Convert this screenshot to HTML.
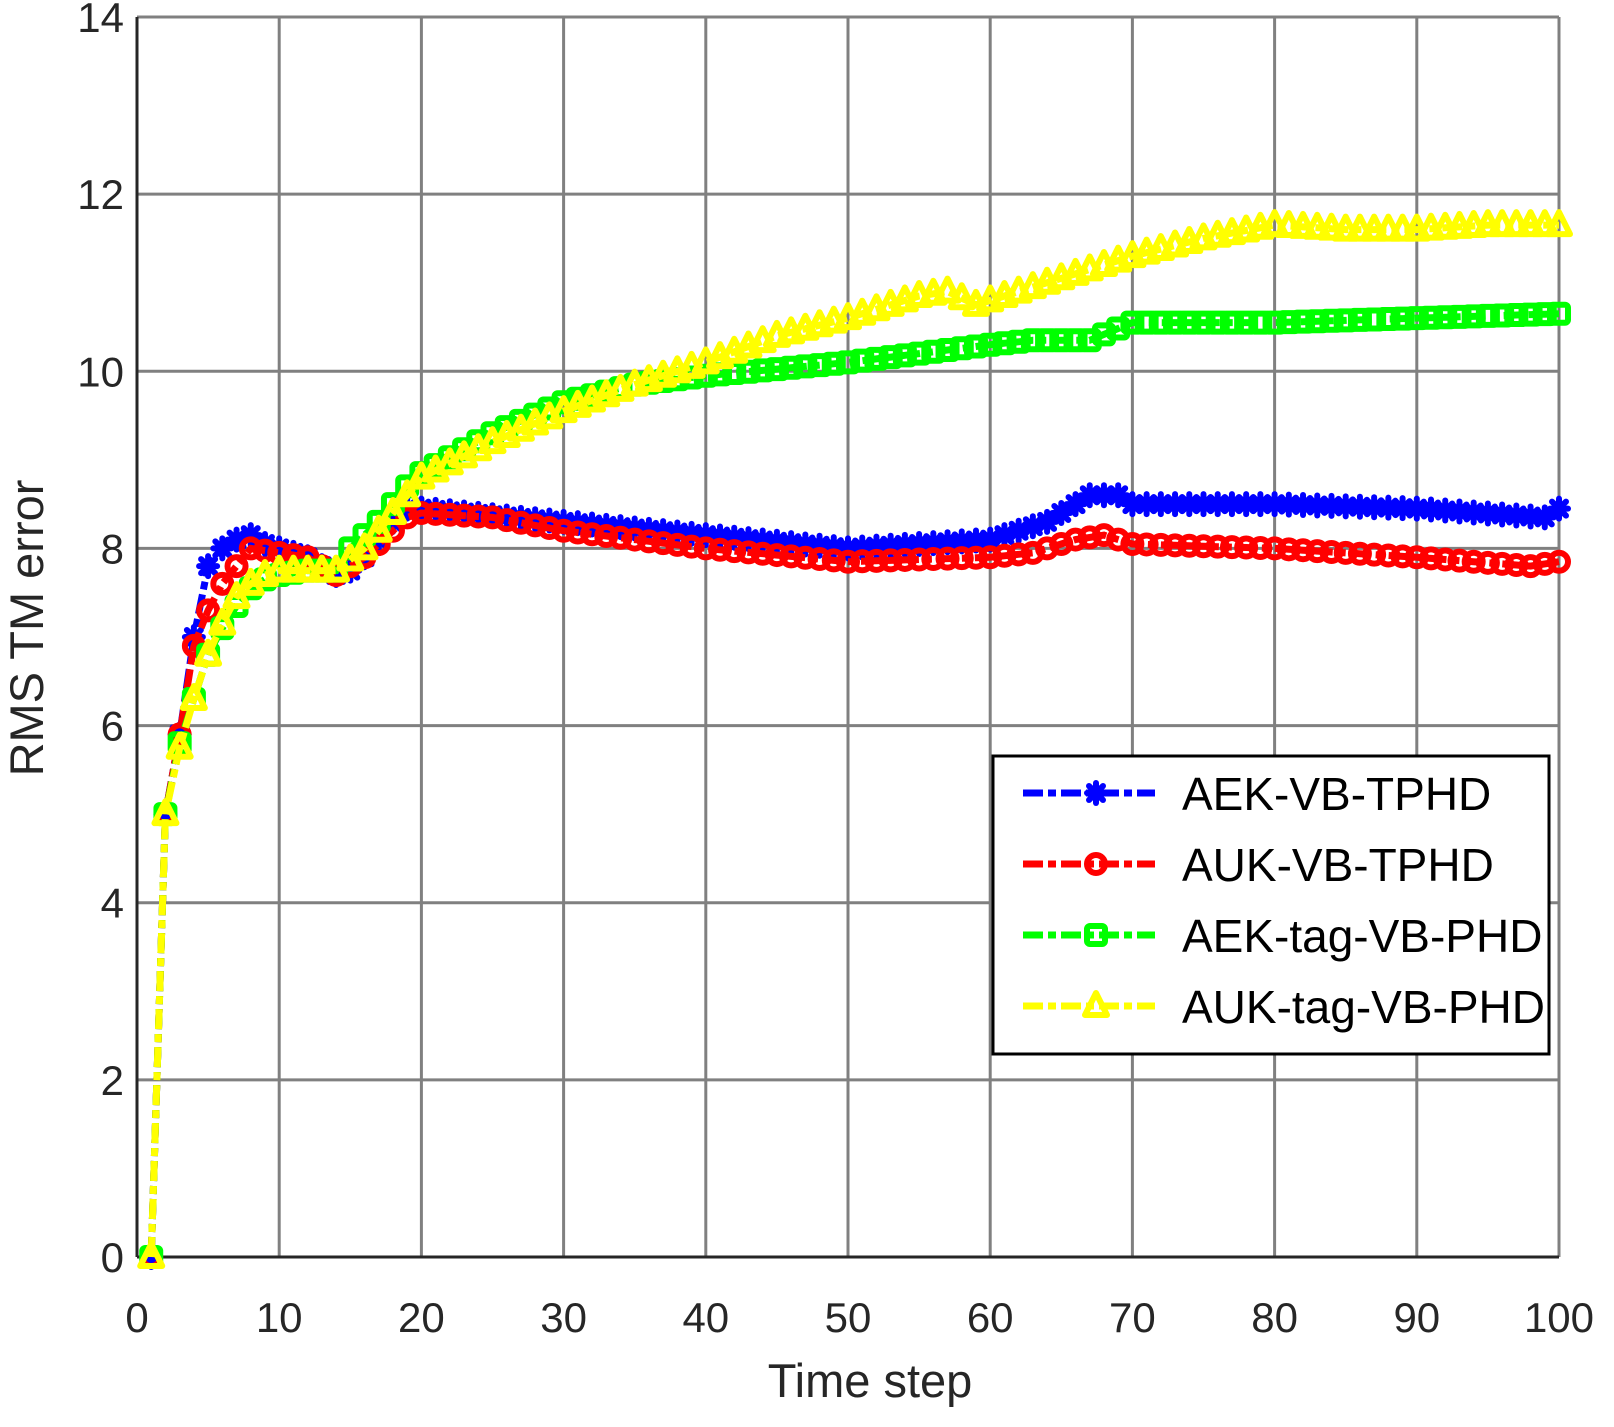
<!DOCTYPE html>
<html><head><meta charset="utf-8"><style>
html,body{margin:0;padding:0;background:#fff}
svg text{font-family:"Liberation Sans",Arial,sans-serif;fill:#262626}
</style></head><body>
<svg id="s" width="1614" height="1422" xmlns="http://www.w3.org/2000/svg"></svg>
<script>
const S=document.getElementById('s');
const L=137,R=1559,T=17,B=1257;
const X=t=>L+(R-L)*t/100, Y=v=>B-(B-T)*v/14;
let h='<rect width="1614" height="1422" fill="#fff"/>';
for(let i=0;i<=10;i++){const x=X(i*10);h+=`<line x1="${x}" y1="${T}" x2="${x}" y2="${B}" stroke="#808080" stroke-width="3"/>`;
h+=`<text x="${x}" y="1332" font-size="42" text-anchor="middle">${i*10}</text>`;}
for(let j=0;j<=7;j++){const y=Y(j*2);h+=`<line x1="${L}" y1="${y}" x2="${R}" y2="${y}" stroke="#808080" stroke-width="3"/>`;
h+=`<text x="124" y="${y+15}" font-size="42" text-anchor="end">${j*2}</text>`;}
h+=`<line x1="${L}" y1="${T}" x2="${L}" y2="${B}" stroke="#262626" stroke-width="3"/><line x1="${L}" y1="${B}" x2="${R}" y2="${B}" stroke="#262626" stroke-width="3"/>`;
h+=`<text x="870" y="1397" font-size="47" text-anchor="middle">Time step</text>`;
h+=`<text transform="translate(43,628) rotate(-90)" font-size="47" text-anchor="middle">RMS TM error</text>`;
function interp(k){const a=[];for(let t=1;t<=100;t++){for(let i=0;i<k.length-1;i++){if(t>=k[i][0]&&t<=k[i+1][0]){const f=(t-k[i][0])/(k[i+1][0]-k[i][0]);a.push([t,k[i][1]+f*(k[i+1][1]-k[i][1])]);break;}}}return a;}
const D={
b:[[1,0],[2,5],[3,5.9],[4,7.0],[5,7.8],[6,8.0],[7,8.1],[8,8.15],[9,8.05],[10,8.0],[12,7.9],[14,7.7],[15,7.75],[16,7.9],[17,8.1],[18,8.3],[19,8.45],[20,8.45],[30,8.3],[40,8.15],[50,8.0],[60,8.1],[64,8.3],[67,8.6],[69,8.6],[70,8.5],[80,8.5],[90,8.45],[99,8.35],[100,8.45]],
r:[[1,0],[2,5],[3,5.9],[4,6.9],[5,7.3],[6,7.6],[7,7.8],[8,8.0],[10,7.95],[12,7.9],[14,7.7],[16,7.9],[18,8.2],[19,8.35],[20,8.4],[25,8.35],[30,8.2],[40,8.0],[50,7.85],[60,7.9],[63,7.95],[66,8.1],[68,8.15],[70,8.05],[80,8.0],[90,7.9],[98,7.8],[100,7.85]],
g:[[1,0],[2,5],[3,5.8],[4,6.3],[5,6.8],[6,7.1],[7,7.35],[8,7.55],[9,7.65],[10,7.7],[12,7.75],[14,7.75],[15,8.0],[17,8.3],[19,8.7],[20,8.85],[25,9.3],[30,9.65],[35,9.85],[40,9.95],[50,10.1],[60,10.3],[63,10.35],[67,10.35],[70,10.55],[80,10.55],[90,10.6],[100,10.65]],
y:[[1,0],[2,5],[3,5.75],[4,6.3],[5,6.8],[6,7.15],[7,7.45],[8,7.6],[9,7.7],[10,7.75],[14,7.75],[16,8.0],[18,8.4],[20,8.8],[25,9.2],[30,9.55],[35,9.85],[40,10.1],[45,10.4],[50,10.6],[55,10.85],[57,10.9],[59,10.75],[62,10.9],[66,11.1],[70,11.3],[75,11.5],[80,11.65],[85,11.6],[90,11.6],[95,11.65],[100,11.65]]};
const C={b:'#0000ff',r:'#ff0000',g:'#00ff00',y:'#ffff00'};
function mk(k,x,y){const c=C[k];
if(k=='b')return `<g stroke="${c}" stroke-width="6" stroke-linecap="round"><line x1="${x-9}" y1="${y}" x2="${x+9}" y2="${y}"/><line x1="${x}" y1="${y-10}" x2="${x}" y2="${y+10}"/><line x1="${x-7}" y1="${y-7}" x2="${x+7}" y2="${y+7}"/><line x1="${x-7}" y1="${y+7}" x2="${x+7}" y2="${y-7}"/></g>`;
if(k=='r')return `<circle cx="${x}" cy="${y}" r="9" fill="none" stroke="${c}" stroke-width="6"/>`;
if(k=='g')return `<rect x="${x-9}" y="${y-9}" width="18" height="18" rx="3" fill="none" stroke="${c}" stroke-width="6"/>`;
return `<polygon points="${x},${y-13} ${x-11},${y+9} ${x+11},${y+9}" fill="none" stroke="${c}" stroke-width="6" stroke-linejoin="round"/>`;}
const DA="20,5,8,5";
for(const k of ['b','r','g','y']){const p=interp(D[k]);
h+=`<polyline fill="none" stroke="${C[k]}" stroke-width="7" stroke-dasharray="${DA}" points="${p.map(q=>X(q[0]).toFixed(1)+','+Y(q[1]).toFixed(1)).join(' ')}"/>`;
p.forEach(q=>h+=mk(k,X(q[0]),Y(q[1])));}
h+=`<rect x="993" y="756" width="556" height="298" fill="#fff" stroke="#000" stroke-width="3"/>`;
const names=['AEK-VB-TPHD','AUK-VB-TPHD','AEK-tag-VB-PHD','AUK-tag-VB-PHD'];
['b','r','g','y'].forEach((k,i)=>{const y=793+i*71;
h+=`<line x1="1023" y1="${y}" x2="1155" y2="${y}" stroke="${C[k]}" stroke-width="7" stroke-dasharray="${DA}"/>`+mk(k,1096,y);
h+=`<text x="1182" y="${y+17}" font-size="46" style="fill:#000">${names[i]}</text>`;});
S.innerHTML=h;
</script>
</body></html>
